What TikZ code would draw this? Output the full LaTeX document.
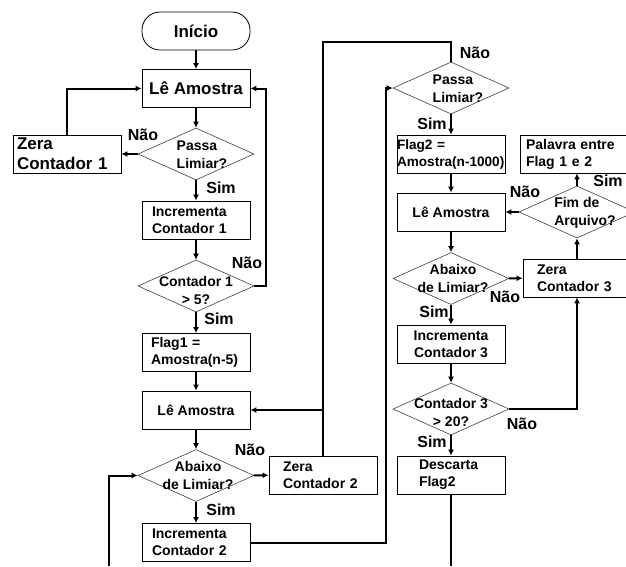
\documentclass[tikz,border=0pt]{standalone}
\usepackage{fontspec}
\setmainfont{Liberation Sans}
\usetikzlibrary{shapes.geometric,arrows.meta,positioning}
\tikzset{
myInicio/.style={
	rectangle,draw,rounded corners=18pt,line width=0.8pt,
	minimum width=108pt,minimum height=38pt,inner sep=0pt,
	font=\bfseries\fontsize{17}{20}\selectfont
}
, myCaixa/.style={
	rectangle,draw,line width=0.8pt,
	minimum width=108pt,minimum height=38pt,inner ysep=0pt,
	align=left,font=\bfseries\fontsize{14}{17}\selectfont
}
, myGrande/.style={font=\bfseries\fontsize{17}{20}\selectfont}
, myDecisao/.style={
	diamond,draw=black!75,line width=0.6pt,
	minimum width=116pt,minimum height=52pt,inner sep=0pt
}
, myTextoD/.style={
	align=center,inner sep=0pt,
	font=\bfseries\fontsize{14}{18}\selectfont
}
, myRotulo/.style={inner sep=0pt,font=\bfseries\fontsize{16}{18}\selectfont}
% ligacoes
, myLinha/.style={line width=2pt}
, mySeta/.style={line width=2pt,-{Latex[length=6pt,width=6pt]}}
}
\begin{document}
\begin{tikzpicture}[x=1pt,y=-1pt]
	\useasboundingbox (0,0) rectangle (626,566);
	% coluna da esquerda
	\node[myInicio] (Inicio) at (196,31) {Início};
	\node[myCaixa,myGrande] (LeA1) at (196,88.5) {Lê Amostra};
	\node[myDecisao] (Passa1) at (196,154) {};
	\node[myTextoD,align=left] (Passa1T) at (202,155) {Passa\\Limiar?};
	\node[myCaixa,myGrande,inner xsep=4pt,text width=100pt] (Zera1) at (67,154) {Zera\\Contador 1};
	\node[myCaixa,inner xsep=10pt,text width=88pt] (Inc1) at (196,220) {Incrementa\\Contador 1};
	\node[myDecisao] (Cont1) at (196,286) {};
	\node[myTextoD] (Cont1T) at (196,290) {Contador 1\\> 5?};
	\node[myCaixa,inner xsep=9pt,text width=90pt] (Flag1) at (196,352.5) {Flag1 =\\Amostra(n-5)};
	\node[myCaixa] (LeA2) at (196,410) {Lê Amostra};
	\node[myDecisao] (Abaixo1) at (196,475.5) {};
	\node[myTextoD] (Abaixo1T) at (198,475) {Abaixo\\de Limiar?};
	\node[myCaixa,inner xsep=14pt,text width=80pt] (Zera2) at (323,475) {Zera\\Contador 2};
	\node[myCaixa,inner xsep=10pt,text width=88pt] (Inc2) at (196,542.5) {Incrementa\\Contador 2};
	% coluna da direita
	\node[myDecisao] (Passa2) at (451,88) {};
	\node[myTextoD,align=left] (Passa2T) at (458,89) {Passa\\Limiar?};
	\node[myCaixa,inner xsep=0pt,text width=108pt,font=\bfseries\fontsize{13.6}{17}\selectfont] (Flag2) at (451,154) {Flag2 =\\\mbox{Amostra(n-1000)}};
	\node[myCaixa] (LeA3) at (451,212) {Lê Amostra};
	\node[myDecisao] (Abaixo2) at (451,278.5) {};
	\node[myTextoD] (Abaixo2T) at (453,278) {Abaixo\\de Limiar?};
	\node[myCaixa,align=center] (Inc3) at (451,344) {Incrementa\\Contador 3};
	\node[myDecisao] (Cont3) at (451,409) {};
	\node[myTextoD] (Cont3T) at (451,412) {Contador 3\\> 20?};
	\node[myCaixa,inner xsep=22pt,text width=64pt] (Desc) at (451,475) {Descarta\\Flag2};
	\node[myCaixa,inner xsep=14pt,text width=80pt] (Zera3) at (577,278) {Zera\\Contador 3};
	\node[myDecisao] (Fim) at (577,212) {};
	\node[myTextoD,align=left] (FimT) at (585,213) {Fim de\\Arquivo?};
	\node[myCaixa,inner xsep=6pt,text width=102pt] (Palavra) at (577,154) {Palavra entre\\Flag 1 e 2};
	% saidas cortadas
	\coordinate (SaiE) at (109,566);
	\coordinate (SaiD) at (451,566);
	% rotulos
	\node[myRotulo] (N1) at (143,135) {Não};
	\node[myRotulo] (S1) at (221,188) {Sim};
	\node[myRotulo] (N2) at (247,263) {Não};
	\node[myRotulo] (S2) at (219,319) {Sim};
	\node[myRotulo] (N3) at (250,450) {Não};
	\node[myRotulo] (S3) at (221,510) {Sim};
	\node[myRotulo] (N4) at (475,53) {Não};
	\node[myRotulo] (S4) at (432,124) {Sim};
	\node[myRotulo] (N5) at (525,192) {Não};
	\node[myRotulo] (S5) at (608,181) {Sim};
	\node[myRotulo] (N6) at (505,297) {Não};
	\node[myRotulo] (S6) at (434,312) {Sim};
	\node[myRotulo] (N7) at (522,424) {Não};
	\node[myRotulo] (S7) at (432,442) {Sim};
	% ligacoes esquerda
	\draw[mySeta] (Inicio) -- (LeA1);
	\draw[mySeta] (LeA1) -- (Passa1);
	\draw[mySeta] (Passa1) -- (Zera1);
	\draw[mySeta] (Zera1.north) |- (LeA1.west);
	\draw[mySeta] (Passa1) -- (Inc1);
	\draw[mySeta] (Inc1) -- (Cont1);
	\draw[mySeta] (Cont1.east) -- ++(12,0) |- (LeA1.east);
	\draw[mySeta] (Cont1) -- (Flag1);
	\draw[mySeta] (Flag1) -- (LeA2);
	\draw[mySeta] (LeA2) -- (Abaixo1);
	\draw[mySeta] (Abaixo1) -- (Zera2);
	\draw[mySeta] (Abaixo1) -- (Inc2);
	\draw[mySeta] (Zera2.north) |- (LeA2.east);
	\draw[myLinha] (Passa2.north) -- ++(0,-20) -| (Zera2.north);
	\draw[mySeta] (Inc2.east) -- ++(136,0) |- (Passa2.west);
	\draw[mySeta] (SaiE) |- (Abaixo1.west);
	% ligacoes direita
	\draw[mySeta] (Passa2) -- (Flag2);
	\draw[mySeta] (Flag2) -- (LeA3);
	\draw[mySeta] (LeA3) -- (Abaixo2);
	\draw[mySeta] (Abaixo2) -- (Zera3);
	\draw[mySeta] (Abaixo2) -- (Inc3);
	\draw[mySeta] (Inc3) -- (Cont3);
	\draw[mySeta] (Cont3) -- (Desc);
	\draw[mySeta] (Cont3.east) -| (Zera3.south);
	\draw[mySeta] (Zera3) -- (Fim);
	\draw[mySeta] (Fim) -- (LeA3);
	\draw[mySeta] (Fim) -- (Palavra);
	\draw[myLinha] (Desc.south) -- (SaiD);
\end{tikzpicture}
\end{document}
